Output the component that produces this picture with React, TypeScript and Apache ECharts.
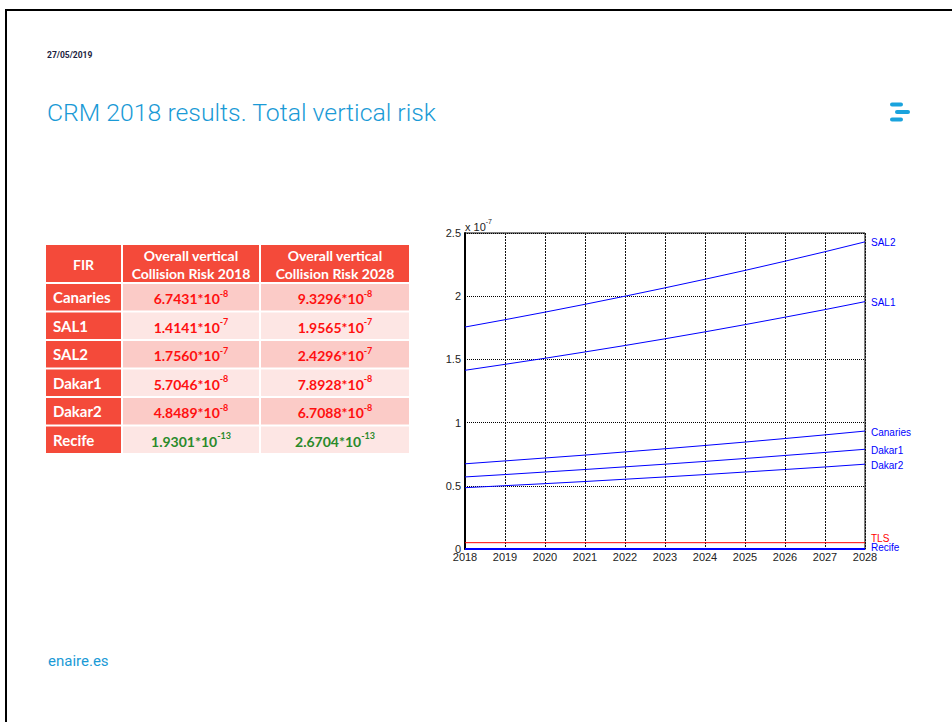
import React, { useEffect, useRef } from "react";
import * as echarts from "echarts";

// ---------- chart data (units of 1e-7) ----------
const years = [2018, 2019, 2020, 2021, 2022, 2023, 2024, 2025, 2026, 2027, 2028];
const sal2 = [1.756, 1.814, 1.874, 1.936, 2.0, 2.066, 2.134, 2.204, 2.277, 2.352, 2.43];
const sal1 = [1.414, 1.461, 1.509, 1.559, 1.61, 1.663, 1.718, 1.775, 1.834, 1.894, 1.957];
const canaries = [0.674, 0.697, 0.72, 0.743, 0.768, 0.793, 0.819, 0.846, 0.874, 0.903, 0.933];
const dakar1 = [0.57, 0.589, 0.609, 0.629, 0.65, 0.671, 0.693, 0.716, 0.74, 0.764, 0.789];
const dakar2 = [0.485, 0.501, 0.517, 0.534, 0.552, 0.57, 0.589, 0.609, 0.629, 0.649, 0.671];
const recife = [0.0000019, 0.0000020, 0.0000021, 0.0000021, 0.0000022, 0.0000023, 0.0000023, 0.0000024, 0.0000025, 0.0000026, 0.0000027];
const tls = [0.05, 0.05, 0.05, 0.05, 0.05, 0.05, 0.05, 0.05, 0.05, 0.05, 0.05];
const lineNames = ["SAL2", "SAL1", "Canaries", "Dakar1", "Dakar2", "Recife", "TLS"];
const lineValues = [sal2, sal1, canaries, dakar1, dakar2, recife, tls];
const yMax = 2.5;
const yStep = 0.5;
const scaleNote = ["x 10", "-7"];

// ---------- table data ----------
const tableHeaders = ["FIR", "Overall vertical\nCollision Risk 2018", "Overall vertical\nCollision Risk 2028"];
const firNames = ["Canaries", "SAL1", "SAL2", "Dakar1", "Dakar2", "Recife"];
const risk2018 = ["6.7431", "1.4141", "1.7560", "5.7046", "4.8489", "1.9301"];
const exp2018 = ["-8", "-7", "-7", "-8", "-8", "-13"];
const risk2028 = ["9.3296", "1.9565", "2.4296", "7.8928", "6.7088", "2.6704"];
const exp2028 = ["-8", "-7", "-7", "-8", "-8", "-13"];

const pageDate = "27/05/2019";
const pageTitle = "CRM 2018 results. Total vertical risk";
const footer = "enaire.es";

const BLUE_T = "#1a9ad6";
const RED_HEAD = "#f44a3a";
const PINK_D = "#fbcbc7";
const PINK_L = "#fde6e4";
const TXT_RED = "#ff1010";
const TXT_GREEN = "#2a8a2a";
const TFONT = "Lato";

function buildTable(): any[] {
  const els: any[] = [];
  const colX = [46, 123, 261];
  const colW = [75, 136, 148];
  const headY = 245;
  const headH = 37;
  const rowY0 = 284;
  const rowPitch = 28.5;
  const rowH = 26.5;
  tableHeaders.forEach((h, i) => {
    els.push({ type: "rect", shape: { x: colX[i], y: headY, width: colW[i], height: headH }, style: { fill: RED_HEAD } });
    els.push({
      type: "text",
      x: colX[i] + colW[i] / 2,
      y: headY + headH / 2 + 1,
      style: {
        text: h,
        fill: "#fff",
        font: `bold 14px ${TFONT}`,
        align: "center",
        verticalAlign: "middle",
        lineHeight: 18,
      },
    });
  });
  firNames.forEach((name, r) => {
    const y = rowY0 + r * rowPitch;
    const bg = r % 2 === 0 ? PINK_D : PINK_L;
    els.push({ type: "rect", shape: { x: colX[0], y, width: colW[0], height: rowH }, style: { fill: RED_HEAD } });
    els.push({ type: "rect", shape: { x: colX[1], y, width: colW[1], height: rowH }, style: { fill: bg } });
    els.push({ type: "rect", shape: { x: colX[2], y, width: colW[2], height: rowH }, style: { fill: bg } });
    els.push({
      type: "text",
      x: colX[0] + 7,
      y: y + rowH / 2,
      style: { text: name, fill: "#fff", font: `bold 15px ${TFONT}`, align: "left", verticalAlign: "middle" },
    });
    const col = name === "Recife" ? TXT_GREEN : TXT_RED;
    const vals = [
      [risk2018[r], exp2018[r]],
      [risk2028[r], exp2028[r]],
    ];
    vals.forEach((v, c) => {
      els.push({
        type: "text",
        x: colX[c + 1] + colW[c + 1] / 2,
        y: y + rowH / 2,
        style: {
          text: `{m|${v[0]}*10}{s|${v[1]}}`,
          align: "center",
          verticalAlign: "middle",
          rich: {
            m: { fill: col, font: `bold 14px ${TFONT}`, lineHeight: 17, verticalAlign: "bottom" },
            s: { fill: col, font: `bold 9px ${TFONT}`, lineHeight: 17, verticalAlign: "top" },
          },
        },
      });
    });
  });
  return els;
}

export default function App() {
  const ref = useRef<HTMLDivElement>(null);
  useEffect(() => {
    if (!ref.current) return;
    const chart = echarts.init(ref.current, null, { renderer: "svg" });
    const series = lineNames.map((name, i) => ({
      name,
      type: "line",
      data: years.map((yr, k) => [yr, lineValues[i][k]]),
      showSymbol: false,
      symbol: "none",
      lineStyle: { color: name === "TLS" ? "#ff0000" : "#0000ff", width: name === "Recife" ? 2 : 1 },
      itemStyle: { color: name === "TLS" ? "#ff0000" : "#0000ff" },
      z: name === "Recife" ? 5 : 3,
      endLabel: {
        show: true,
        formatter: "{a}",
        color: name === "TLS" ? "#ff0000" : "#0000ff",
        fontSize: 10,
        fontFamily: "Liberation Sans, Arial",
        distance: 6,
        offset: name === "TLS" ? [0, -4] : name === "Recife" ? [0, -1] : [0, 1],
      },
    }));
    chart.setOption({
      animation: false,
      backgroundColor: "#fff",
      grid: { left: 465, top: 233, right: 87, bottom: 173, show: true, borderColor: "#000", borderWidth: 1 },
      xAxis: {
        type: "value",
        min: years[0],
        max: years[years.length - 1],
        interval: 1,
        axisLine: { show: true, onZero: false, lineStyle: { color: "#000", width: 1 } },
        axisTick: { show: false },
        axisLabel: {
          color: "#222",
          fontSize: 11,
          fontFamily: "Liberation Sans, Arial",
          margin: 2,
          formatter: (v: number) => String(v),
        },
        splitLine: { show: true, lineStyle: { color: "#111", type: [2, 1], width: 1 } },
      },
      yAxis: {
        type: "value",
        min: 0,
        max: yMax,
        interval: yStep,
        axisLine: { show: true, lineStyle: { color: "#000", width: 2 } },
        axisTick: { show: false },
        axisLabel: {
          color: "#222",
          fontSize: 11,
          fontFamily: "Liberation Sans, Arial",
          margin: 4,
          formatter: (v: number) => String(v),
        },
        splitLine: { show: true, lineStyle: { color: "#000", type: "dotted", width: 1 } },
      },
      series,
      graphic: [
        { type: "line", shape: { x1: 6, y1: 10, x2: 952, y2: 10 }, style: { stroke: "#000", lineWidth: 2 } },
        { type: "line", shape: { x1: 6, y1: 9, x2: 6, y2: 722 }, style: { stroke: "#000", lineWidth: 2 } },
        {
          type: "text",
          x: 47,
          y: 55,
          style: { text: pageDate, fill: "#1c2340", font: "bold 8.5px Roboto", verticalAlign: "middle" },
        },
        {
          type: "text",
          x: 47,
          y: 112,
          style: { text: pageTitle, fill: BLUE_T, font: "300 24.8px Roboto", verticalAlign: "middle" },
        },
        { type: "rect", shape: { x: 890, y: 102.5, width: 13, height: 4, r: 2 }, style: { fill: "#1aa3dd" } },
        { type: "rect", shape: { x: 895, y: 110, width: 15, height: 4, r: 2 }, style: { fill: "#1aa3dd" } },
        { type: "rect", shape: { x: 890, y: 117.5, width: 13, height: 4, r: 2 }, style: { fill: "#1aa3dd" } },
        {
          type: "text",
          x: 48,
          y: 661,
          style: { text: footer, fill: BLUE_T, font: "15px Roboto", verticalAlign: "middle" },
        },
        {
          type: "text",
          x: 465,
          y: 225,
          style: {
            text: `{a|${scaleNote[0]}}{b|${scaleNote[1]}}`,
            verticalAlign: "middle",
            rich: {
              a: { fill: "#222", font: "11px Liberation Sans", lineHeight: 14, verticalAlign: "bottom" },
              b: { fill: "#222", font: "7px Liberation Sans", lineHeight: 14, verticalAlign: "top" },
            },
          },
        },
        ...buildTable(),
      ],
    });
    return () => chart.dispose();
  }, []);
  return <div ref={ref} style={{ position: "absolute", left: 0, top: 0, width: 952, height: 722 }} />;
}
